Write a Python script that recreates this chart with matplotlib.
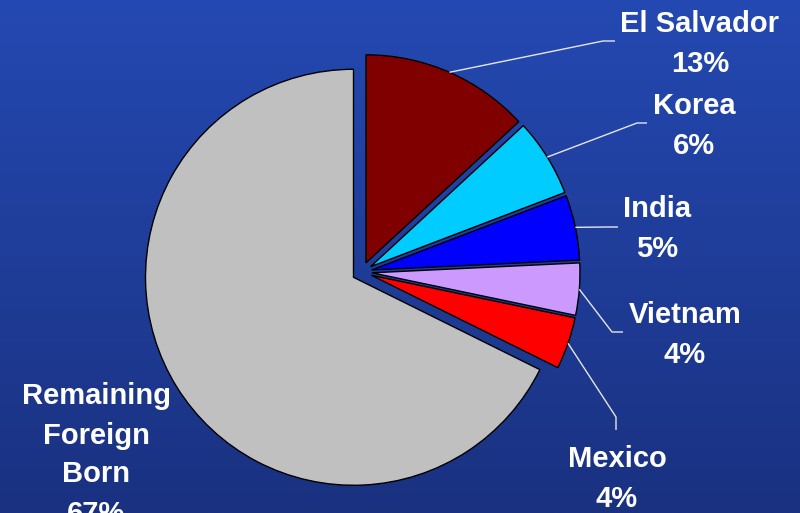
import numpy as np
import matplotlib
matplotlib.use("Agg")
import matplotlib.pyplot as plt
from matplotlib.colors import LinearSegmentedColormap

# Share of the foreign-born population by country of birth (%)
countries = ["El Salvador", "Korea", "India", "Vietnam", "Mexico", "Remaining\nForeign\nBorn"]
shares = [13, 6, 5, 4, 4, 67]
colors = ["#800000", "#00CCFF", "#0000FF", "#CC99FF", "#FF0000", "#C0C0C0"]

# Label placement (centre of each label block) and leader-line elbows, in pixels
label_xy = [(700, 44), (694, 126), (657, 229), (685, 335), (617, 479), (96, 455)]
line_gap = [1.56, 1.56, 1.56, 1.56, 1.56, 1.5]
elbows = [[(603, 41), (615, 41)],
          [(637, 123), (647, 123)],
          [(607, 227), (618, 227)],
          [(612, 332), (623, 332)],
          [(616, 417), (616, 430)],
          None]

W, H = 800, 513
fig = plt.figure(figsize=(W / 100, H / 100), dpi=100)
ax = fig.add_axes([0, 0, 1, 1])

# vertical blue gradient background
cmap = LinearSegmentedColormap.from_list("bg", ["#2449B2", "#1A3180"])
grad = np.linspace(0, 1, 256).reshape(-1, 1)
ax.imshow(grad, cmap=cmap, extent=[0, W, 0, H], aspect="auto", zorder=0)

# pie drawn in pixel units; every slice pulled out by the same offset
cx, cy, R = 362, H - 272, 208
wedges, _ = ax.pie(
    shares, colors=colors, startangle=90, counterclock=False,
    explode=[10] * len(shares), radius=R, center=(cx, cy),
    wedgeprops=dict(edgecolor="black", linewidth=1.0),
)
for w in wedges:
    w.set_zorder(2)

ax.set_xlim(0, W)
ax.set_ylim(0, H)
ax.axis("off")

for w, name, val, (lx, ly), gap, elb in zip(wedges, countries, shares,
                                            label_xy, line_gap, elbows):
    if elb is not None:
        mid = np.deg2rad((w.theta1 + w.theta2) / 2)
        x0 = w.center[0] + w.r * np.cos(mid)
        y0 = w.center[1] + w.r * np.sin(mid)
        xs = [x0] + [p[0] for p in elb]
        ys = [y0] + [H - p[1] for p in elb]
        ax.plot(xs, ys, color="#E6E6E6", lw=1.0, zorder=3, solid_capstyle="butt")
    ax.text(lx, H - ly, f"{name}\n{val}%", ha="center", va="center",
            multialignment="center", color="white", fontsize=21,
            fontweight="bold", family="Liberation Sans", linespacing=gap,
            zorder=4)

fig.savefig("out.png", dpi=100)
